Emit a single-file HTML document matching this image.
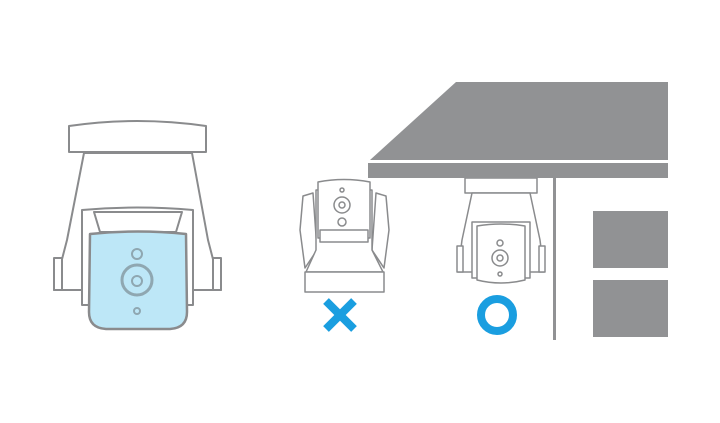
<!DOCTYPE html>
<html><head><style>html,body{margin:0;padding:0;background:#fff}svg{display:block}</style></head>
<body>
<svg width="720" height="423" viewBox="0 0 720 423" xmlns="http://www.w3.org/2000/svg">
<g fill="#fff" stroke="#8a8b8d" stroke-width="2" stroke-linejoin="round">
 <!-- Big camera -->
 <path d="M69,126 Q137,116 206,126 L206,152 L69,152 Z"/>
 <path d="M84,153 L192,153 L208,240 L221,290 L54,290 L67,240 Z"/>
 <path d="M54,258 L62,258 L62,290 L54,290 Z"/>
 <path d="M213,258 L221,258 L221,290 L213,290 Z"/>
 <path d="M82,210 Q137,205 193,210 L193,305 L82,305 Z"/>
 <path d="M94,212 L182,212 L176,232 L100,232 Z"/>
 <path d="M90,234 Q138,229 186,234 L187,312 Q187,328 170,329 L106,329 Q89,328 89,312 Z" fill="#bde7f7" stroke-width="2.5"/>
 <g fill="none" stroke="#8fa7b1" stroke-width="2">
  <circle cx="137" cy="254" r="5"/>
  <circle cx="137" cy="280" r="15" stroke-width="3"/>
  <circle cx="137" cy="281" r="5"/>
  <circle cx="137" cy="311" r="3"/>
 </g>
 <!-- small camera (X) -->
 <path d="M303,196 L313,193 L317,250 L305,268 L300,230 Z" stroke-width="1.5"/>
 <path d="M386,196 L376,193 L372,250 L384,268 L389,230 Z" stroke-width="1.5"/>
 <path d="M316,190 L372,190 L372,250 L383,272 L306,272 L316,250 Z" stroke-width="1.5"/>
 <path d="M318,182 Q344,177 370,182 L370,238 L318,238 Z" stroke-width="1.5"/>
 <path d="M320,230 L368,230 L368,242 L320,242 Z" stroke-width="1.5"/>
 <path d="M305,272 L384,272 L384,292 L305,292 Z" stroke-width="1.5"/>
 <g fill="none" stroke="#8a8b8d" stroke-width="1.5">
  <circle cx="342" cy="190" r="2"/>
  <circle cx="342" cy="205" r="8"/>
  <circle cx="342" cy="205" r="3"/>
  <circle cx="342" cy="222" r="4"/>
 </g>
 <!-- hanging camera -->
 <path d="M465,178 L537,178 L537,193 L465,193 Z" stroke-width="1.5"/>
 <path d="M472,193 L530,193 L540,240 L544,272 L458,272 L462,240 Z" stroke-width="1.5"/>
 <path d="M457,246 L463,246 L463,272 L457,272 Z" stroke-width="1.5"/>
 <path d="M539,246 L545,246 L545,272 L539,272 Z" stroke-width="1.5"/>
 <path d="M472,222 L530,222 L530,278 L472,278 Z" stroke-width="1.5"/>
 <path d="M477,226 Q501,222 525,226 L525,280 Q501,286 477,280 Z" stroke-width="1.5"/>
 <g fill="none" stroke="#8a8b8d" stroke-width="1.5">
  <circle cx="500" cy="243" r="3"/>
  <circle cx="500" cy="258" r="8"/>
  <circle cx="500" cy="258" r="3"/>
  <circle cx="500" cy="274" r="2"/>
 </g>
</g>
<!-- roof -->
<polygon points="456,82 668,82 668,160 370,160" fill="#919294"/>
<rect x="368" y="163" width="300" height="15" fill="#919294"/>
<rect x="553" y="178" width="3" height="162" fill="#919294"/>
<rect x="593" y="211" width="75" height="57" fill="#919294"/>
<rect x="593" y="280" width="75" height="57" fill="#919294"/>
<!-- X and O -->
<g stroke="#1a9ee0" stroke-width="8">
 <line x1="326" y1="301" x2="354" y2="329"/>
 <line x1="354" y1="301" x2="326" y2="329"/>
</g>
<circle cx="497" cy="315" r="16" fill="none" stroke="#1a9ee0" stroke-width="8"/>
</svg>
</body></html>
